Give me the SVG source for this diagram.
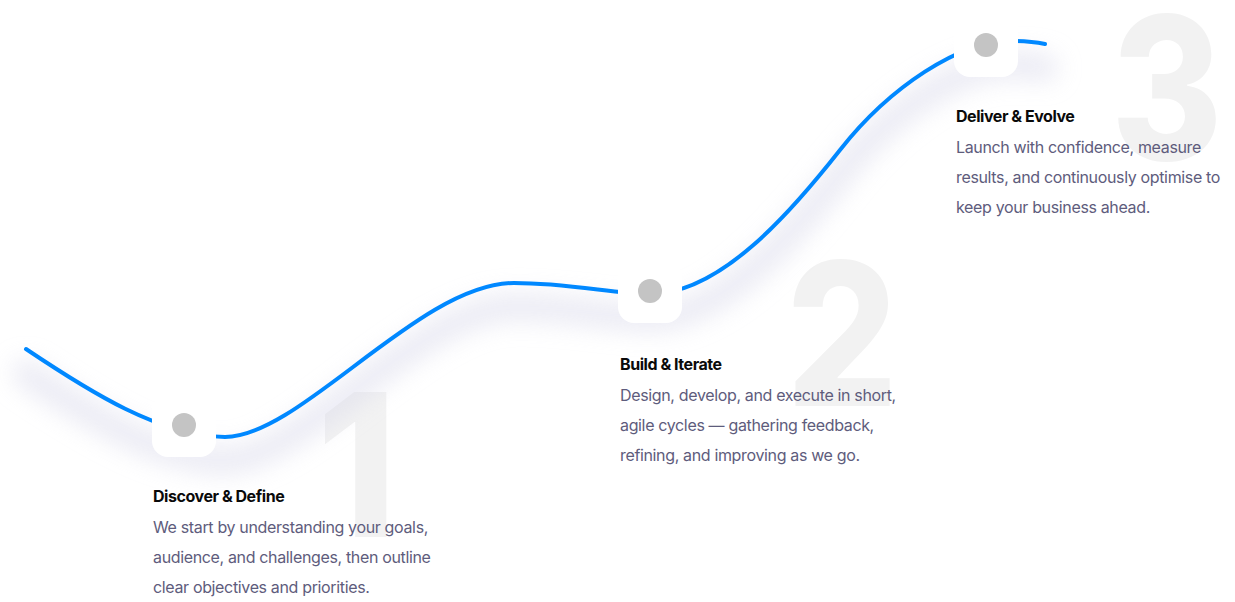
<svg xmlns="http://www.w3.org/2000/svg" width="1235" height="602" viewBox="0 0 1235 602">
<defs>
<style>
.num{font-family:Inter,"Noto Sans",sans-serif;font-weight:800;font-size:200px;fill:#f2f2f2}
.title{font-family:Inter,"Noto Sans",sans-serif;font-weight:700;font-size:16px;letter-spacing:-0.45px;fill:#0a0a0a}
.body{font-family:Inter,"Noto Sans",sans-serif;font-weight:400;font-size:16px;letter-spacing:-0.35px;fill:#5e5c7c}
.box{fill:#ffffff}
.dot{fill:#c4c4c4}
.line{fill:none;stroke:#0088ff;stroke-width:4;stroke-linecap:round}
.shadow{fill:none;stroke:#d9d9ea;stroke-width:26;stroke-linecap:round;opacity:0.55}
</style>
<filter id="blur" x="-10%" y="-30%" width="120%" height="160%">
<feGaussianBlur stdDeviation="12"/>
</filter>
</defs>
<rect width="1235" height="602" fill="#ffffff"/>
<g id="numbers">
<text class="num" transform="translate(317,537) scale(0.9,1)">1</text>
<text class="num" transform="translate(786,406) scale(0.878,1)">2</text>
<text class="num" transform="translate(1111,160) scale(0.85,1)">3</text>
</g>
<g id="connectors">
<path class="shadow" filter="url(#blur)" transform="translate(0,24)" d="M26,349 C90,392 160,436 225,437 C300,437 420,283 514,283 C570,283 615,294 650,294 C720,294 790,213.5 840,150 C890,86.5 960,41 1010,41 C1025,41 1035,42 1045,44"/>
<path class="line" d="M26,349 C90,392 160,436 225,437 C300,437 420,283 514,283 C570,283 615,294 650,294 C720,294 790,213.5 840,150 C890,86.5 960,41 1010,41 C1025,41 1035,42 1045,44"/>
</g>
<g id="node1">
<rect class="box" x="152" y="393" width="64" height="64" rx="16"/>
<circle class="dot" cx="184" cy="425" r="12"/>
<text class="title" x="153" y="502">Discover &amp; Define</text>
<text class="body" x="153" y="533">We start by understanding your goals,</text>
<text class="body" x="153" y="563">audience, and challenges, then outline</text>
<text class="body" x="153" y="593">clear objectives and priorities.</text>
</g>
<g id="node2">
<rect class="box" x="618" y="259" width="64" height="64" rx="16"/>
<circle class="dot" cx="650" cy="291" r="12"/>
<text class="title" x="620" y="370">Build &amp; Iterate</text>
<text class="body" x="620" y="401">Design, develop, and execute in short,</text>
<text class="body" x="620" y="431">agile cycles — gathering feedback,</text>
<text class="body" x="620" y="461">refining, and improving as we go.</text>
</g>
<g id="node3">
<rect class="box" x="954" y="13" width="64" height="64" rx="16"/>
<circle class="dot" cx="986" cy="45" r="12"/>
<text class="title" x="956" y="122">Deliver &amp; Evolve</text>
<text class="body" x="956" y="153">Launch with confidence, measure</text>
<text class="body" x="956" y="183">results, and continuously optimise to</text>
<text class="body" x="956" y="213">keep your business ahead.</text>
</g>
</svg>
